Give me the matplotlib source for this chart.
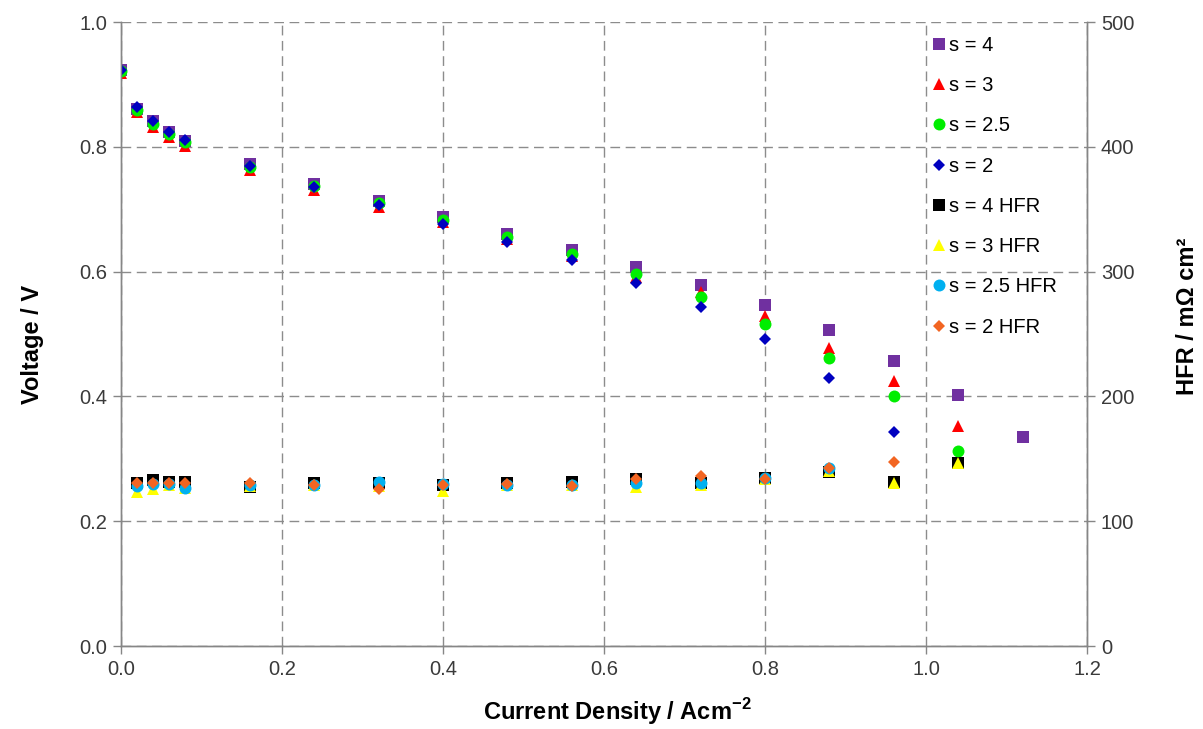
import matplotlib
matplotlib.use("Agg")
import matplotlib.pyplot as plt

plt.rcParams['font.family'] = ['Liberation Sans', 'DejaVu Sans']
plt.rcParams['mathtext.fontset'] = 'custom'
plt.rcParams['mathtext.rm'] = 'Liberation Sans'
plt.rcParams['mathtext.bf'] = 'Liberation Sans:bold'

# Current density steps (A/cm^2)
current = [0.00, 0.02, 0.04, 0.06, 0.08, 0.16, 0.24, 0.32, 0.40, 0.48,
           0.56, 0.64, 0.72, 0.80, 0.88, 0.96, 1.04, 1.12]

# Cell voltage (V) for each stoichiometry
v_s4 = [0.923, 0.861, 0.842, 0.824, 0.810, 0.772, 0.740, 0.713, 0.687, 0.661,
        0.635, 0.608, 0.578, 0.546, 0.506, 0.457, 0.402, 0.335]
v_s3 = [0.918, 0.855, 0.832, 0.815, 0.801, 0.763, 0.731, 0.704, 0.679, 0.652,
        0.625, 0.592, 0.567, 0.529, 0.478, 0.424, 0.353]
v_s25 = [0.921, 0.859, 0.836, 0.820, 0.807, 0.768, 0.737, 0.710, 0.683, 0.656,
         0.628, 0.596, 0.560, 0.516, 0.461, 0.400, 0.313]
v_s2 = [0.923, 0.864, 0.841, 0.823, 0.811, 0.770, 0.736, 0.707, 0.677, 0.648,
        0.619, 0.582, 0.543, 0.492, 0.429, 0.343]

# High-frequency resistance (mOhm cm^2), measured from 0.02 A/cm^2 onward
hfr_s4 = [130.3, 133.0, 131.7, 131.7, 127.1, 130.3, 130.5, 129.0, 130.3, 131.2,
          133.8, 130.5, 134.9, 139.2, 131.7, 146.9]
hfr_s3 = [123.6, 125.5, 129.0, 127.0, 128.0, 129.0, 128.0, 124.4, 129.0, 129.0,
          127.6, 129.0, 134.0, 140.0, 131.0, 146.9]
hfr_s25 = [128.2, 130.0, 129.8, 126.8, 129.0, 129.0, 131.2, 129.5, 129.0, 129.0,
           130.9, 130.3, 134.5, 142.4]
hfr_s2 = [130.9, 130.9, 130.3, 130.9, 130.3, 129.0, 125.8, 129.0, 129.5, 128.4,
          133.8, 136.5, 134.0, 142.9, 147.7]

labels = ['s = 4', 's = 3', 's = 2.5', 's = 2',
          's = 4 HFR', 's = 3 HFR', 's = 2.5 HFR', 's = 2 HFR']

W, H = 1203, 729
fig = plt.figure(figsize=(W / 100, H / 100), dpi=100)
ax = fig.add_axes([121 / W, 83 / H, 966 / W, 624 / H])
ax2 = ax.twinx()

ms = 8.6
styles_v = [('s', '#7030A0', ms), ('^', '#FF0000', ms), ('o', '#00EE00', ms), ('D', '#0000C0', ms * 0.72)]
styles_h = [('s', '#000000', ms), ('^', '#FFFF00', ms), ('o', '#00B0F0', ms), ('D', '#F26522', ms * 0.72)]

handles = []
for (m, c, s), y, lab in zip(styles_v, [v_s4, v_s3, v_s25, v_s2], labels[:4]):
    h, = ax.plot(current[:len(y)], y, linestyle='none', marker=m, color=c,
                 markersize=s, markeredgewidth=0, label=lab, zorder=3)
    handles.append(h)
for (m, c, s), y, lab in zip(styles_h, [hfr_s4, hfr_s3, hfr_s25, hfr_s2], labels[4:]):
    h, = ax2.plot(current[1:1 + len(y)], y, linestyle='none', marker=m, color=c,
                  markersize=s, markeredgewidth=0, label=lab, zorder=3)
    handles.append(h)

ax.set_xlim(0, 1.2)
ax.set_ylim(0, 1.0)
ax2.set_ylim(0, 500)
ax.set_xticks([0.0, 0.2, 0.4, 0.6, 0.8, 1.0, 1.2])
ax.set_yticks([0.0, 0.2, 0.4, 0.6, 0.8, 1.0])
ax2.set_yticks([0, 100, 200, 300, 400, 500])
ax.xaxis.set_major_formatter(matplotlib.ticker.FormatStrFormatter('%.1f'))
ax.yaxis.set_major_formatter(matplotlib.ticker.FormatStrFormatter('%.1f'))

ax.grid(True, color='#8c8c8c', linestyle=(0, (7, 4)), linewidth=1.0)
ax.set_axisbelow(True)

for a in (ax, ax2):
    a.spines['top'].set_visible(False)
    for sp in ('left', 'right', 'bottom'):
        a.spines[sp].set_color('#868686')
        a.spines[sp].set_linewidth(1.0)
    a.tick_params(colors='#868686', labelcolor='#3a3a3a', labelsize=14.5, length=6, width=1.0, pad=4)

# Axis titles placed in figure pixel coordinates
fig.text(617 / W, 1 - 712 / H, r'Current Density / Acm$^{\mathbf{-2}}$',
         fontsize=17, fontweight='bold', ha='center', va='center')
fig.text(33 / W, 1 - 344 / H, 'Voltage / V', fontsize=17, fontweight='bold',
         rotation=90, ha='center', va='center')
fig.text(1187 / W, 1 - 316 / H, 'HFR / mΩ cm²', fontsize=17, fontweight='bold',
         rotation=90, ha='center', va='center')

leg = ax2.legend(handles=handles, loc='upper left', bbox_to_anchor=(933 / W, 1 - 36 / H),
                 bbox_transform=fig.transFigure, frameon=False, fontsize=14.5,
                 labelspacing=1.055, handlelength=0.6, handletextpad=0.2,
                 borderaxespad=0, borderpad=0)

fig.savefig('out.png', dpi=100)
